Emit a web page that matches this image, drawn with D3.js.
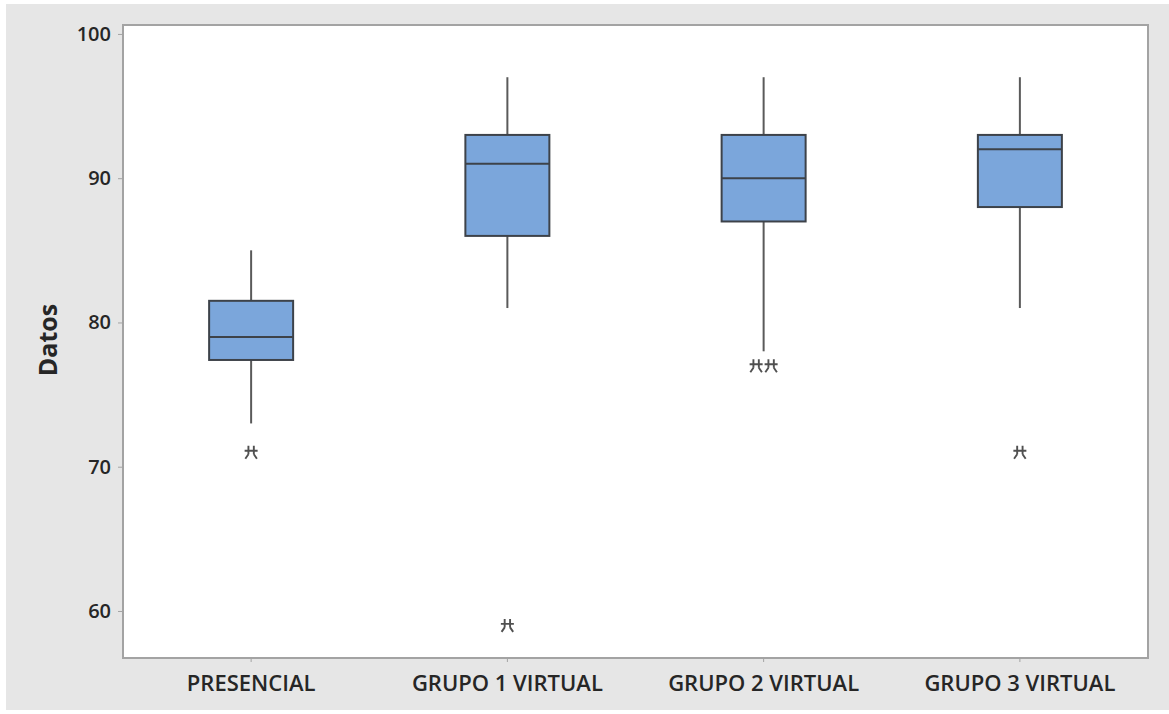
<!DOCTYPE html>
<html>
<head>
<meta charset="utf-8">
<script src="https://cdn.jsdelivr.net/npm/d3@7"></script>
<style>
  html, body { margin: 0; padding: 0; background: #ffffff; }
  svg { display: block; }
  text { font-family: "Open Sans", "Noto Sans", sans-serif; fill: #262626; }
</style>
</head>
<body>
<svg id="chart" width="1169" height="714"></svg>
<script>
// Groups and five-number summaries
const categories = ["PRESENCIAL", "GRUPO 1 VIRTUAL", "GRUPO 2 VIRTUAL", "GRUPO 3 VIRTUAL"];
const whiskerLow  = [73, 81, 78, 81];
const q1          = [77.4, 86, 87, 88];
const median      = [79, 91, 90, 92];
const q3          = [81.5, 93, 93, 93];
const whiskerHigh = [85, 97, 97, 97];
// Outliers: [group index, value, horizontal offset slot]
const outliers = [
  [0, 71, 0],
  [1, 59, 0],
  [2, 77, -0.5],
  [2, 77, 0.5],
  [3, 71, 0]
];
const yTicks = [60, 70, 80, 90, 100];

const svg = d3.select("#chart");
const W = 1169, H = 714;
const plot = { left: 123, top: 25, right: 1148, bottom: 658 };

// Outer panel
svg.append("rect").attr("x", 6).attr("y", 4).attr("width", W - 6).attr("height", 706)
  .attr("fill", "#e6e6e6");
svg.append("rect")
  .attr("x", plot.left).attr("y", plot.top)
  .attr("width", plot.right - plot.left).attr("height", plot.bottom - plot.top)
  .attr("fill", "#ffffff").attr("stroke", "#a3a3a3").attr("stroke-width", 2);

const x = d3.scaleBand().domain(categories).range([plot.left, plot.right]).padding(0);
const y = d3.scaleLinear().domain([56.74, 100.62]).range([plot.bottom, plot.top]);

// Axes
const yAxis = svg.append("g").attr("transform", `translate(${plot.left},0)`)
  .call(d3.axisLeft(y).tickValues(yTicks).tickSize(5).tickPadding(7).tickFormat(d3.format("d")));
yAxis.select(".domain").remove();
yAxis.selectAll(".tick line").attr("stroke", "#a3a3a3");
yAxis.selectAll(".tick text").attr("font-size", 20).attr("font-weight", 600)
  .attr("fill", "#262626").style("font-family", "'Open Sans', sans-serif");

const xAxis = svg.append("g").attr("transform", `translate(0,${plot.bottom})`)
  .call(d3.axisBottom(x).tickSize(4).tickPadding(13));
xAxis.select(".domain").remove();
xAxis.selectAll(".tick line").attr("stroke", "#a3a3a3");
xAxis.selectAll(".tick text").attr("font-size", 22).attr("font-weight", 600)
  .attr("fill", "#262626").style("font-family", "'Open Sans', sans-serif");

svg.append("text")
  .attr("transform", `translate(57,340) rotate(-90)`)
  .attr("text-anchor", "middle").attr("font-size", 25).attr("font-weight", 700)
  .text("Datos");

// Boxes
const boxW = 84;
const groups = svg.append("g").selectAll("g").data(categories).join("g")
  .attr("transform", d => `translate(${x(d) + x.bandwidth() / 2},0)`);

groups.append("line")
  .attr("x1", 0).attr("x2", 0)
  .attr("y1", (d, i) => y(whiskerHigh[i])).attr("y2", (d, i) => y(q3[i]))
  .attr("stroke", "#5a5a5a").attr("stroke-width", 2);
groups.append("line")
  .attr("x1", 0).attr("x2", 0)
  .attr("y1", (d, i) => y(q1[i])).attr("y2", (d, i) => y(whiskerLow[i]))
  .attr("stroke", "#5a5a5a").attr("stroke-width", 2);
groups.append("rect")
  .attr("x", -boxW / 2).attr("width", boxW)
  .attr("y", (d, i) => y(q3[i])).attr("height", (d, i) => y(q1[i]) - y(q3[i]))
  .attr("fill", "#7ba6db").attr("stroke", "#3d4249").attr("stroke-width", 2);
groups.append("line")
  .attr("x1", -boxW / 2).attr("x2", boxW / 2)
  .attr("y1", (d, i) => y(median[i])).attr("y2", (d, i) => y(median[i]))
  .attr("stroke", "#3d4249").attr("stroke-width", 2);

// Outlier symbol
const star = "M-6.5,-1.5H6.5M-2.7,-6.5V2M2.7,-6.5V2M-2.7,2L-5.8,6.5M2.7,2L5.8,6.5";
svg.append("g").selectAll("path").data(outliers).join("path")
  .attr("d", star)
  .attr("transform", d => `translate(${x(categories[d[0]]) + x.bandwidth() / 2 + d[2] * 15},${y(d[1])})`)
  .attr("fill", "none").attr("stroke", "#505050").attr("stroke-width", 1.9);
</script>
</body>
</html>
